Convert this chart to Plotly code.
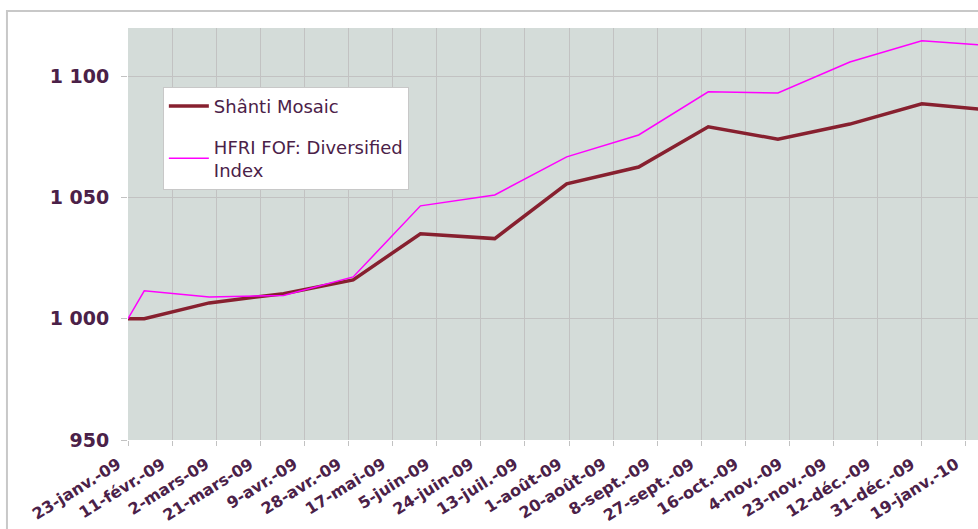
import plotly.graph_objects as go
from datetime import datetime, timedelta

dates = ["2009-01-23", "2009-01-30", "2009-02-27", "2009-03-31", "2009-04-30", "2009-05-29",
         "2009-06-30", "2009-07-31", "2009-08-31", "2009-09-30", "2009-10-30", "2009-11-30",
         "2009-12-31", "2010-01-29"]
shanti = [1000.0, 1000.0, 1006.5, 1010.3, 1016.0, 1035.0, 1033.0, 1055.6, 1062.5, 1079.1,
          1074.0, 1080.2, 1088.6, 1086.0]
hfri = [1000.0, 1011.5, 1008.9, 1009.6, 1017.2, 1046.5, 1051.0, 1066.7, 1075.7, 1093.5,
        1093.0, 1105.8, 1114.5, 1112.6]

tick_dates = ["2009-01-23", "2009-02-11", "2009-03-02", "2009-03-21", "2009-04-09", "2009-04-28",
              "2009-05-17", "2009-06-05", "2009-06-24", "2009-07-13", "2009-08-01", "2009-08-20",
              "2009-09-08", "2009-09-27", "2009-10-16", "2009-11-04", "2009-11-23", "2009-12-12",
              "2009-12-31", "2010-01-19"]
tick_labels = ["23-janv.-09", "11-févr.-09", "2-mars-09", "21-mars-09", "9-avr.-09", "28-avr.-09",
               "17-mai-09", "5-juin-09", "24-juin-09", "13-juil.-09", "1-août-09", "20-août-09",
               "8-sept.-09", "27-sept.-09", "16-oct.-09", "4-nov.-09", "23-nov.-09", "12-déc.-09",
               "31-déc.-09", "19-janv.-10"]
y_ticks = [950, 1000, 1050, 1100]
y_labels = ["950", "1 000", "1 050", "1 100"]

text_color = "#4b2148"
grid_color = "#c2c2c2"

fig = go.Figure()
fig.add_trace(go.Scatter(x=dates, y=shanti, mode="lines", name="Shânti Mosaic",
                         line=dict(color="#87202f", width=3.5), legendgroup="a"))
fig.add_trace(go.Scatter(x=dates, y=hfri, mode="lines", name="HFRI FOF: Diversified<br>Index",
                         line=dict(color="#ff00ff", width=1.5), legendgroup="b"))

x_start = datetime(2009, 1, 23)
x_end = x_start + timedelta(days=366.2)

fig.update_layout(
    width=978, height=529,
    margin=dict(l=128, r=0, t=28, b=89, autoexpand=False),
    paper_bgcolor="white",
    plot_bgcolor="#d4dcd9",
    font=dict(family="DejaVu Sans", color=text_color),
    showlegend=True,
    legend=dict(x=0.041, y=0.857, xanchor="left", yanchor="top",
                bgcolor="white", bordercolor="#c8c8c8", borderwidth=1,
                font=dict(size=18, color=text_color, family="DejaVu Sans"),
                tracegroupgap=14, itemwidth=40),
    xaxis=dict(type="date", range=[x_start, x_end], tickvals=tick_dates, ticktext=tick_labels,
               tickangle=-32, tickfont=dict(size=16, family="DejaVu Sans", color=text_color,
                                            weight="bold"),
               ticklabelshift=-10, ticklabelstandoff=3, automargin=False,
               showgrid=True, gridcolor=grid_color, gridwidth=1,
               ticks="outside", ticklen=5, tickcolor=grid_color,
               showline=False, zeroline=False, fixedrange=True),
    yaxis=dict(range=[950, 1119.8], tickvals=y_ticks, ticktext=y_labels,
               tickfont=dict(size=19, family="DejaVu Sans", color=text_color, weight="bold"),
               showgrid=True, gridcolor=grid_color, gridwidth=1, automargin=False,
               ticks="outside", ticklen=6, tickcolor=grid_color, ticklabelstandoff=8,
               showline=False, zeroline=False, fixedrange=True),
    shapes=[dict(type="rect", xref="paper", yref="paper", x0=-0.1424, x1=1.2, y0=-0.5, y1=1.0413,
                 line=dict(color="#c8c8c8", width=2), fillcolor="rgba(0,0,0,0)", layer="below")],
)

fig.write_html("out.html", config={"displayModeBar": False},
               post_script="document.body.style.margin='0';")
